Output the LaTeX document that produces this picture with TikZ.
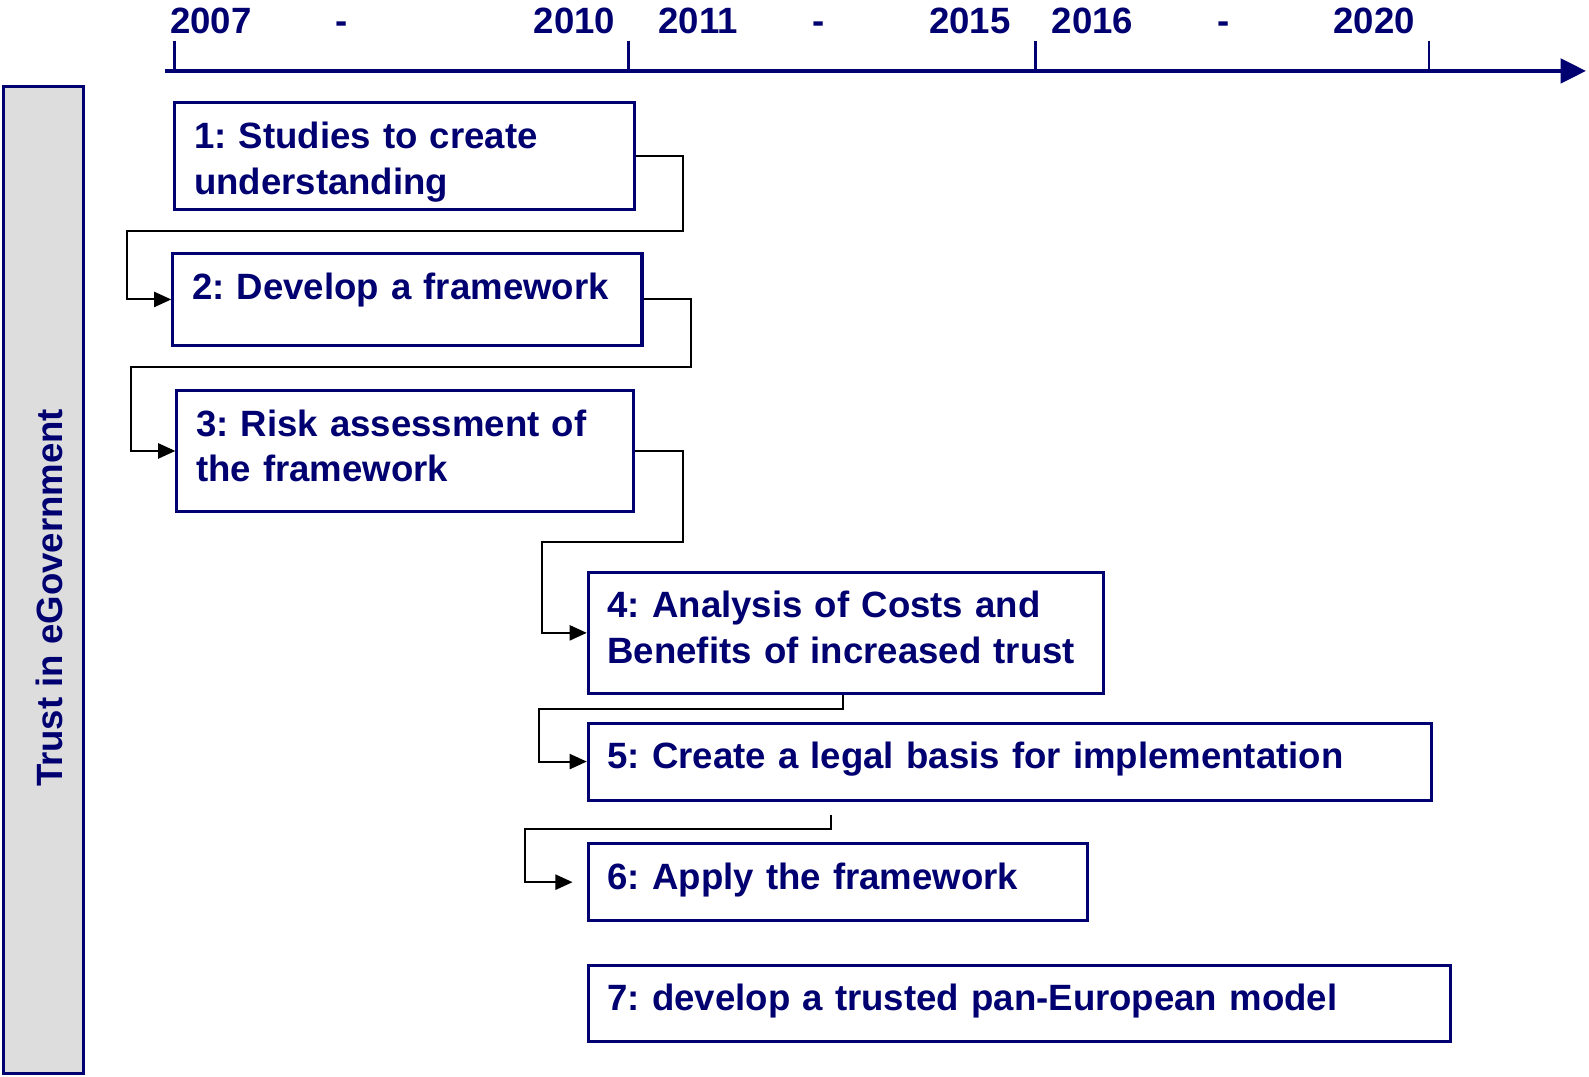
\documentclass[tikz,border=0pt]{standalone}
\usepackage{fontspec}
\setmainfont{Liberation Sans}
\usepackage{tikz}
\usetikzlibrary{arrows.meta, positioning}
\definecolor{navy}{RGB}{0,0,112}
\definecolor{barfill}{RGB}{221,221,221}
\frenchspacing

\begin{document}
\begin{tikzpicture}[
    x=1pt, y=-1pt,
    task/.style={rectangle, draw=navy, line width=3pt, anchor=north west, inner xsep=19pt, inner ysep=0pt, text height=45pt, align=left, text=navy, font=\fontsize{36.1}{45}\selectfont\bfseries},
    year/.style={anchor=base, text=navy, font=\fontsize{36.1}{44}\selectfont\bfseries},
    flow/.style={draw=black, line width=2pt, -{Triangle[length=17pt, width=15pt]}},
    axis/.style={draw=navy, line width=4pt, -{Triangle[length=25pt, width=24pt]}}
]
    \useasboundingbox (0,0) rectangle (1568,1062);

    % Timeline
    \draw[axis] (163,70) -- (1565,70);
    \foreach \t in {172,620,1022,1410}
        \draw[navy, line width=2.5pt] (\t,40) -- (\t,70);
    \node[year] (y2007) at (208,33) {2007};
    \node[year] (d1) at (337,33) {-};
    \node[year] (y2010) at (567,33) {2010};
    \node[year] (y2011) at (689,33) {2011};
    \node[year] (d2) at (808,33) {-};
    \node[year] (y2015) at (957,33) {2015};
    \node[year] (y2016) at (1078,33) {2016};
    \node[year] (d3) at (1207,33) {-};
    \node[year] (y2020) at (1356,33) {2020};

    % Side bar
    \draw[navy, fill=barfill, line width=3pt] (3,85) rectangle (82,1059);
    \node[rotate=90, text=navy, font=\fontsize{36.1}{44}\selectfont\bfseries] (title) at (49,590) {Trust in eGovernment};

    % Work packages
    \node[task, text width=416pt, text depth=60pt] (box1) at (171,100) {1: Studies to create\\understanding};
    \node[task, text width=425pt, text depth=45pt] (box2) at (169,249) {2: Develop a framework};
    \node[task, text width=413pt, text depth=74pt] (box3) at (173,384) {3: Risk assessment of\\the framework};
    \node[task, text width=470pt, text depth=75pt] (box4) at (579,563) {4: Analysis of Costs and\\Benefits of increased trust};
    \node[task, text width=794pt, text depth=31pt] (box5) at (579,712) {5: Create a legal basis for implementation};
    \node[task, text width=455pt, text depth=31pt] (box6) at (579,831) {6: Apply the framework};
    \node[task, text width=813pt, text depth=30pt] (box7) at (579,951) {7: develop a trusted pan-European model};

    % Connectors
    \draw[flow] (box1.east) -- ++(46,0) |- ++(-549,74) |- (box2.west);
    \draw[flow] (box2.east) -- ++(47,0) |- ++(-553,67) |- (box3.west);
    \draw[flow] (box3.east) -- ++(47,0) |- ++(-139,90) |- (box4.west);
    \draw[flow] ([shift={(253,0)}]box4.south west) -- ++(0,14) -- ++(-300,0) |- (box5.west);
    \coordinate (c56) at ([shift={(241,13)}]box5.south west);
    \draw[flow, shorten >=14pt] (c56) -- ++(0,14) -- ++(-302,0) |- (box6.west);

\end{tikzpicture}
\end{document}
